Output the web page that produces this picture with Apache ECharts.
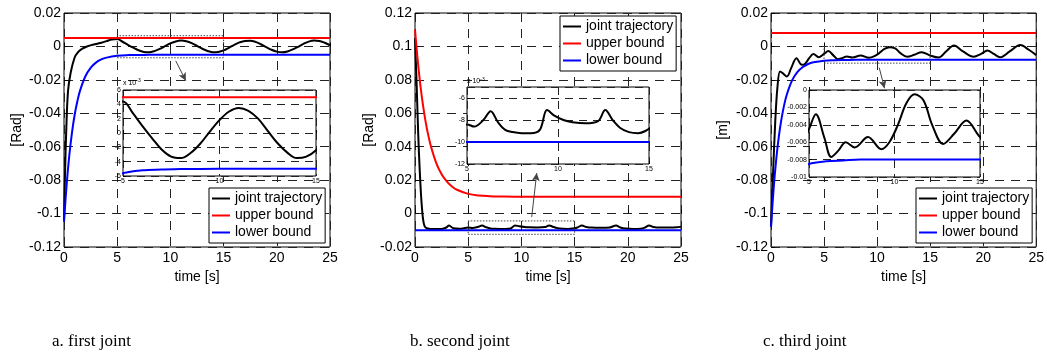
<!DOCTYPE html>
<html><head><meta charset="utf-8">
<script src="https://cdn.jsdelivr.net/npm/echarts@6/dist/echarts.min.js"></script>
<style>html,body{margin:0;padding:0;background:#fff}#c{width:1047px;height:358px}</style>
</head><body><div id="c"></div>
<script>
// ---------- data ----------
const seriesNames = ['joint trajectory', 'upper bound', 'lower bound'];
const captions = ['a. first joint', 'b. second joint', 'c. third joint'];
const yNames = ['[Rad]', '[Rad]', '[m]'];
const xName = 'time [s]';

const boundT = [0,0.25,0.5,0.75,1,1.25,1.5,2,2.5,3,3.5,4,5,6,7,8,10,25];
const flatT = [0, 25];

// panel a
const traj1T = [0,0.1,0.22,0.38,0.63,1.0,1.3,1.65,2.1,2.57,3.0,3.5,4.0,4.5,5.0,5.5,6.0,6.5,7.0,7.5,8.0,8.5,9.0,9.5,10.0,10.5,11.0,11.5,12.0,12.5,13.0,13.5,14.0,14.5,15.0,15.5,16.0,16.5,17.0,17.5,18.0,18.5,19.0,19.5,20.0,20.5,21.0,21.5,22.0,22.5,23.0,23.5,24.0,24.5,25.0];
const traj1V = [-0.104,-0.075,-0.0485,-0.0265,-0.0156,-0.0066,-0.0035,-0.0016,-0.0002,0.0008,0.0014,0.0022,0.0032,0.0042,0.0044,0.0028,0.0010,-0.0007,-0.0023,-0.0033,-0.0035,-0.0028,-0.0015,0.0002,0.0018,0.0030,0.0035,0.0031,0.0020,0.0003,-0.0014,-0.0027,-0.0035,-0.0033,-0.0024,-0.0008,0.0009,0.0024,0.0033,0.0034,0.0027,0.0013,-0.0004,-0.0020,-0.0031,-0.0035,-0.0030,-0.0018,-0.0002,0.0015,0.0029,0.0035,0.0033,0.0022,0.0007];
const upper1V = [0.005, 0.005];
const lower1V = [-0.105,-0.0825,-0.065,-0.0515,-0.041,-0.033,-0.0266,-0.018,-0.0128,-0.0097,-0.0078,-0.0067,-0.0056,-0.0052,-0.0051,-0.00503,-0.0050,-0.0050];

// panel b
const traj2T = [0,0.15,0.3,0.45,0.6,0.75,0.9,1.1,1.5,2,2.5,2.9,3.2,3.6,4.2,5,5.4,5.9,6.3,6.7,7.1,7.5,8,8.5,9.0,9.4,9.8,10.3,10.8,11.5,12.2,12.6,13.0,13.4,13.9,14.4,14.8,15.2,15.7,16.1,16.6,17.5,18.3,18.9,19.3,19.8,20.5,21.2,21.6,22.0,22.4,23,24,24.6,25];
const traj2V = [0.105,0.078,0.048,0.025,0.008,-0.003,-0.0075,-0.0088,-0.0092,-0.0093,-0.0092,-0.0085,-0.0072,-0.0088,-0.0091,-0.0084,-0.0086,-0.0080,-0.0072,-0.0082,-0.0089,-0.0091,-0.0092,-0.0092,-0.0089,-0.0071,-0.0076,-0.0080,-0.0082,-0.0083,-0.0081,-0.0071,-0.0080,-0.0087,-0.0091,-0.0092,-0.0090,-0.0085,-0.0072,-0.0080,-0.0084,-0.0085,-0.0083,-0.0072,-0.0083,-0.0090,-0.0093,-0.0091,-0.0084,-0.0072,-0.0080,-0.0084,-0.0084,-0.0082,-0.0078];
const upper2V = [0.11,0.0919,0.077,0.0649,0.0549,0.0468,0.0401,0.0302,0.0235,0.0191,0.0161,0.0141,0.0118,0.0108,0.0104,0.0102,0.0100,0.0100];
const lower2V = [-0.01, -0.01];

// panel c
const traj3T = [0,0.2,0.4,0.6,0.85,1.1,1.5,1.9,2.4,2.9,3.2,3.6,4.0,4.5,5.0,5.4,5.9,6.3,6.7,7.15,7.67,8.45,9.23,9.7,10.2,10.7,11.18,11.7,12.2,12.84,13.5,14.2,15,15.8,16.5,17.25,18.1,19.1,19.8,20.4,21.0,21.6,22.5,23.5,24.3,25];
const traj3V = [-0.108,-0.075,-0.045,-0.025,-0.015,-0.016,-0.018,-0.013,-0.007,-0.011,-0.0105,-0.007,-0.0045,-0.0065,-0.0045,-0.0028,-0.0055,-0.0077,-0.0070,-0.0060,-0.0066,-0.0054,-0.0068,-0.0060,-0.0040,-0.0015,-0.0005,-0.0012,-0.0040,-0.0062,-0.0050,-0.0035,-0.0054,-0.0066,-0.0030,0.0006,-0.0030,-0.0062,-0.0045,-0.0025,-0.0045,-0.0065,-0.0030,0.0008,-0.0020,-0.0052];
const upper3V = [0.008, 0.008];
const lower3V = [-0.108,-0.0849,-0.0671,-0.0534,-0.0429,-0.0348,-0.0286,-0.0202,-0.0152,-0.0123,-0.0105,-0.0095,-0.0085,-0.0082,-0.0081,-0.0080,-0.0080,-0.0080];

// main axis ranges
const mainX = [0, 25, 5];
const mainY = [[-0.12, 0.02, 0.02], [-0.02, 0.12, 0.02], [-0.12, 0.02, 0.02]];
// zoomed windows (inset ranges) and the dotted boxes marking them
const insetX = [5, 15, 5];
const insetY = [[-0.006, 0.006, 0.002], [-0.012, -0.005, 0.002], [-0.01, 0, 0.002]];
const boxT = [5, 15];
const boxV = [[-0.0068, 0.0064], [-0.0124, -0.0044], [-0.010, 0]];
// arrows (start -> end) in data units
const arrowT = [[10.5, 11.45], [10.97, 11.44], [10.2, 10.7]];
const arrowV = [[-0.0086, -0.0205], [-0.002, 0.0242], [-0.0127, -0.025]];

// ---------- build ----------
const zip = (t, v) => t.map((x, i) => [x, v[i]]);
const panels = [
  {traj: zip(traj1T, traj1V), up: zip(flatT, upper1V), lo: zip(boundT, lower1V)},
  {traj: zip(traj2T, traj2V), up: zip(boundT, upper2V), lo: zip(flatT, lower2V)},
  {traj: zip(traj3T, traj3V), up: zip(flatT, upper3V), lo: zip(boundT, lower3V)}
];
const FONT = 'Liberation Sans, Arial, sans-serif';
const mainGrids = [
  {left: 64, top: 13, width: 266, height: 234},
  {left: 415, top: 13, width: 266, height: 234},
  {left: 771, top: 13, width: 267, height: 234}
];
const insetGrids = [
  {left: 123, top: 90, width: 193, height: 86},
  {left: 467, top: 87, width: 182, height: 77},
  {left: 809, top: 90, width: 171, height: 87}
];
const yNameGap = [40, 38, 41];
const legendPos = [{left: 209, top: 188}, {left: 560, top: 16}, {left: 916, top: 188}];
const colors = ['#000000', '#ff0000', '#0000ff'];

const grid = [], xAxis = [], yAxis = [], series = [], legend = [], graphic = [];

mainGrids.forEach((g, i) => {
  grid.push(Object.assign({show: true, borderColor: '#000', borderWidth: 1, backgroundColor: 'transparent', containLabel: false}, g));
  xAxis.push({
    type: 'value', gridIndex: i, min: mainX[0], max: mainX[1], interval: mainX[2],
    name: xName, nameLocation: 'middle', nameGap: 17,
    nameTextStyle: {fontFamily: FONT, fontSize: 14, color: '#000'},
    axisLine: {show: false}, axisTick: {show: true, inside: true, length: 4, lineStyle: {color: '#000'}},
    axisLabel: {fontFamily: FONT, fontSize: 14, color: '#000', margin: 4},
    splitLine: {show: true, lineStyle: {color: '#222', type: [9, 7], width: 1}}
  });
  yAxis.push({
    type: 'value', gridIndex: i, min: mainY[i][0], max: mainY[i][1], interval: mainY[i][2],
    name: yNames[i], nameLocation: 'middle', nameGap: yNameGap[i],
    nameTextStyle: {fontFamily: FONT, fontSize: 14, color: '#000'},
    axisLine: {show: false}, axisTick: {show: true, inside: true, length: 4, lineStyle: {color: '#000'}},
    axisLabel: {fontFamily: FONT, fontSize: 14, color: '#000', margin: 3},
    splitLine: {show: true, lineStyle: {color: '#222', type: [9, 7], width: 1}}
  });
});
insetGrids.forEach((g, k) => {
  const i = k + 3;
  grid.push(Object.assign({show: true, borderColor: '#000', borderWidth: 1, backgroundColor: '#fff', z: 10}, g));
  xAxis.push({
    type: 'value', gridIndex: i, min: insetX[0], max: insetX[1], interval: insetX[2], z: 11,
    axisLine: {show: false}, axisTick: {show: true, inside: true, length: 3, lineStyle: {color: '#000'}},
    axisLabel: {fontFamily: FONT, fontSize: 7, color: '#000', margin: 2},
    splitLine: {show: true, lineStyle: {color: '#222', type: [8, 6], width: 1}}
  });
  const scaled = k < 2;
  yAxis.push({
    type: 'value', gridIndex: i, min: insetY[k][0], max: insetY[k][1], interval: insetY[k][2], z: 11,
    name: scaled ? '{a|x 10}{b|-3}' : '', nameLocation: 'end', nameGap: 1,
    nameTextStyle: {align: 'left', rich: {a: {fontFamily: FONT, fontSize: 7, color: '#000'}, b: {fontFamily: FONT, fontSize: 5, color: '#000', verticalAlign: 'top', padding: [0, 0, 4, 0]}}},
    axisLine: {show: false}, axisTick: {show: true, inside: true, length: 3, lineStyle: {color: '#000'}},
    axisLabel: {fontFamily: FONT, fontSize: 7, color: '#000', margin: 2, showMaxLabel: k !== 1,
      formatter: v => scaled ? String(Math.round(v * 1000)) : String(+v.toFixed(4))},
    splitLine: {show: true, lineStyle: {color: '#222', type: [8, 6], width: 1}}
  });
});

function lineSeries(name, data, color, gi, z) {
  return {type: 'line', name, data, xAxisIndex: gi, yAxisIndex: gi, symbol: 'none', smooth: 0.35,
    lineStyle: {color, width: 2}, itemStyle: {color}, z, clip: true, silent: true, animation: false};
}
panels.forEach((p, i) => {
  [p.traj, p.up, p.lo].forEach((d, j) => series.push(lineSeries(seriesNames[j], d, colors[j], i, 3)));
  [p.traj, p.up, p.lo].forEach((d, j) => series.push(lineSeries(seriesNames[j], d, colors[j], i + 3, 12)));
  const b = boxV[i];
  series.push({type: 'line', name: 'box', xAxisIndex: i, yAxisIndex: i, symbol: 'none', silent: true, z: 3,
    data: [[boxT[0], b[0]], [boxT[1], b[0]], [boxT[1], b[1]], [boxT[0], b[1]], [boxT[0], b[0]]],
    lineStyle: {color: '#444', width: 1, type: [1.5, 1.5]},
    markLine: {silent: true, animation: false, symbol: ['none', 'arrow'], symbolSize: [6, 8],
      label: {show: false}, lineStyle: {color: '#444', width: 1, type: 'solid'},
      data: [[{coord: [arrowT[i][0], arrowV[i][0]]}, {coord: [arrowT[i][1], arrowV[i][1]]}]]}
  });
  legend.push(Object.assign({
    orient: 'vertical', data: seriesNames.map(n => ({name: n, icon: 'rect'})), selectedMode: false,
    backgroundColor: '#fff', borderColor: '#000', borderWidth: 1, borderRadius: 0,
    padding: [3, 3, 3, 3], itemGap: 2, itemWidth: 18, itemHeight: 2,
    textStyle: {fontFamily: FONT, fontSize: 14, color: '#000', lineHeight: 15}
  }, legendPos[i]));
});
const capLeft = [52, 410, 763];
captions.forEach((c, i) => graphic.push({type: 'text', left: capLeft[i], top: 333,
  style: {text: c, fontFamily: 'Liberation Serif, Times New Roman, serif', fontSize: 17, fill: '#000'}}));

const chart = echarts.init(document.getElementById('c'), null, {renderer: 'canvas'});
chart.setOption({animation: false, backgroundColor: '#fff', grid, xAxis, yAxis, series, legend, graphic});
</script></body></html>
